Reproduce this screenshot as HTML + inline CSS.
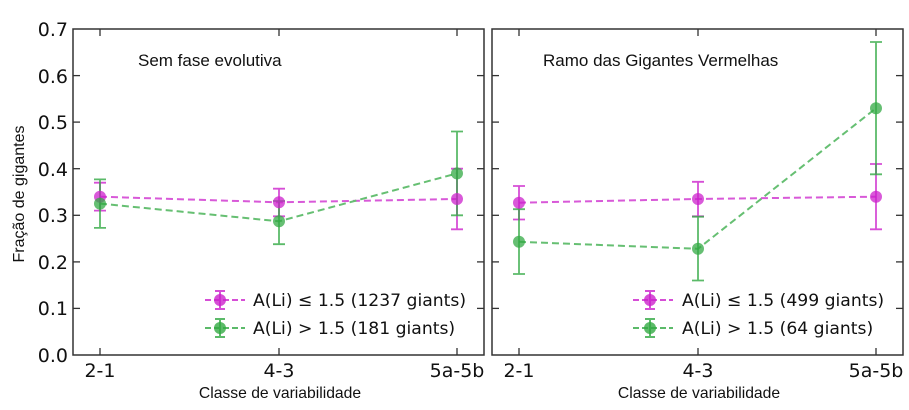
<!DOCTYPE html><html><head><style>body{margin:0;background:#fff}svg{display:block}text{font-family:"DejaVu Sans","Liberation Sans",sans-serif}</style></head><body>
<svg width="909" height="410" xmlns="http://www.w3.org/2000/svg">
<g id="L" transform="translate(73,29)">
<rect width="411" height="326" fill="none" stroke="#333" stroke-width="1.5"/>
<g stroke="#333" stroke-width="1.3">
<line x1="0" y1="46.6" x2="7" y2="46.6"/><line x1="0" y1="93.1" x2="7" y2="93.1"/><line x1="0" y1="139.7" x2="7" y2="139.7"/><line x1="0" y1="186.3" x2="7" y2="186.3"/><line x1="0" y1="232.9" x2="7" y2="232.9"/><line x1="0" y1="279.4" x2="7" y2="279.4"/>
<line x1="411" y1="46.6" x2="404" y2="46.6"/><line x1="411" y1="93.1" x2="404" y2="93.1"/><line x1="411" y1="139.7" x2="404" y2="139.7"/><line x1="411" y1="186.3" x2="404" y2="186.3"/><line x1="411" y1="232.9" x2="404" y2="232.9"/><line x1="411" y1="279.4" x2="404" y2="279.4"/>
<line x1="27" y1="326" x2="27" y2="319"/><line x1="206" y1="326" x2="206" y2="319"/><line x1="384" y1="326" x2="384" y2="319"/>
<line x1="27" y1="0" x2="27" y2="7"/><line x1="206" y1="0" x2="206" y2="7"/><line x1="384" y1="0" x2="384" y2="7"/>
</g></g>
<g id="R" transform="translate(492,29)">
<rect width="411" height="326" fill="none" stroke="#333" stroke-width="1.5"/>
<g stroke="#333" stroke-width="1.3">
<line x1="0" y1="46.6" x2="7" y2="46.6"/><line x1="0" y1="93.1" x2="7" y2="93.1"/><line x1="0" y1="139.7" x2="7" y2="139.7"/><line x1="0" y1="186.3" x2="7" y2="186.3"/><line x1="0" y1="232.9" x2="7" y2="232.9"/><line x1="0" y1="279.4" x2="7" y2="279.4"/>
<line x1="411" y1="46.6" x2="404" y2="46.6"/><line x1="411" y1="93.1" x2="404" y2="93.1"/><line x1="411" y1="139.7" x2="404" y2="139.7"/><line x1="411" y1="186.3" x2="404" y2="186.3"/><line x1="411" y1="232.9" x2="404" y2="232.9"/><line x1="411" y1="279.4" x2="404" y2="279.4"/>
<line x1="27" y1="326" x2="27" y2="319"/><line x1="206" y1="326" x2="206" y2="319"/><line x1="384" y1="326" x2="384" y2="319"/>
<line x1="27" y1="0" x2="27" y2="7"/><line x1="206" y1="0" x2="206" y2="7"/><line x1="384" y1="0" x2="384" y2="7"/>
</g></g>
<g font-size="19" fill="#111" text-anchor="end">
<text x="68" y="36">0.7</text><text x="68" y="83">0.6</text><text x="68" y="129">0.5</text><text x="68" y="176">0.4</text><text x="68" y="222">0.3</text><text x="68" y="269">0.2</text><text x="68" y="315">0.1</text><text x="68" y="362">0.0</text>
</g>
<g font-size="19" fill="#111" text-anchor="middle">
<text x="100" y="377">2-1</text><text x="279" y="377">4-3</text><text x="457" y="377">5a-5b</text>
<text x="519" y="377">2-1</text><text x="698" y="377">4-3</text><text x="876" y="377">5a-5b</text>
</g>
<g fill="#111">
<text x="280" y="398" text-anchor="middle" style="font-family:'Liberation Sans',sans-serif;font-size:15.7px">Classe de variabilidade</text>
<text x="699" y="398" text-anchor="middle" style="font-family:'Liberation Sans',sans-serif;font-size:15.7px">Classe de variabilidade</text>
<text x="138" y="66" style="font-family:'Liberation Sans',sans-serif;font-size:17px">Sem fase evolutiva</text>
<text x="543" y="66" style="font-family:'Liberation Sans',sans-serif;font-size:17px">Ramo das Gigantes Vermelhas</text>
<text transform="translate(24,194) rotate(-90)" text-anchor="middle" style="font-family:'Liberation Sans',sans-serif;font-size:16px">Fração de gigantes</text>
</g>
<g stroke-width="2" fill="none" opacity="0.75">
<polyline points="100,196.7 279,202.3 457,199" stroke="#cc22cc" stroke-dasharray="7,4"/>
<polyline points="100,203.6 279,221.3 457,173.4" stroke="#33aa44" stroke-dasharray="7,4"/>
<polyline points="519,202.7 698,199 876,196.7" stroke="#cc22cc" stroke-dasharray="7,4"/>
<polyline points="519,241.8 698,248.8 876,108.2" stroke="#33aa44" stroke-dasharray="7,4"/>
</g>
<g stroke="#cc22cc" stroke-width="1.8" opacity="0.8">
<path d="M100,182.7V210.6M94,182.7H106M94,210.6H106"/>
<path d="M279,188.7V216.3M273,188.7H285M273,216.3H285"/>
<path d="M457,168.7V229.3M451,168.7H463M451,229.3H463"/>
<path d="M519,186V219.5M513,186H525M513,219.5H525"/>
<path d="M698,181.8V216.3M692,181.8H704M692,216.3H704"/>
<path d="M876,164V229.3M870,164H882M870,229.3H882"/>
</g>
<g stroke="#33aa44" stroke-width="1.8" opacity="0.8">
<path d="M100,179.4V227.9M94,179.4H106M94,227.9H106"/>
<path d="M279,201V244.2M273,201H285M273,244.2H285"/>
<path d="M457,131.5V215.3M451,131.5H463M451,215.3H463"/>
<path d="M519,209.2V274M513,209.2H525M513,274H525"/>
<path d="M698,216.7V280.5M692,216.7H704M692,280.5H704"/>
<path d="M876,42V174.3M870,42H882M870,174.3H882"/>
</g>
<g fill="#cc22cc" opacity="0.75">
<circle cx="100" cy="196.7" r="6"/><circle cx="279" cy="202.3" r="6"/><circle cx="457" cy="199" r="6"/>
<circle cx="519" cy="202.7" r="6"/><circle cx="698" cy="199" r="6"/><circle cx="876" cy="196.7" r="6"/>
</g>
<g fill="#33aa44" opacity="0.75">
<circle cx="100" cy="203.6" r="6"/><circle cx="279" cy="221.3" r="6"/><circle cx="457" cy="173.4" r="6"/>
<circle cx="519" cy="241.8" r="6"/><circle cx="698" cy="248.8" r="6"/><circle cx="876" cy="108.2" r="6"/>
</g>
<g opacity="0.8" stroke-width="2">
<path d="M205,300H245" stroke="#cc22cc" stroke-dasharray="6,3"/><path d="M220,291V309M215,291H225M215,309H225" stroke="#cc22cc"/>
<path d="M205,328H245" stroke="#33aa44" stroke-dasharray="6,3"/><path d="M220,319V337M215,319H225M215,337H225" stroke="#33aa44"/>
<path d="M633,300H673" stroke="#cc22cc" stroke-dasharray="6,3"/><path d="M650,291V309M645,291H655M645,309H655" stroke="#cc22cc"/>
<path d="M633,328H673" stroke="#33aa44" stroke-dasharray="6,3"/><path d="M650,319V337M645,319H655M645,337H655" stroke="#33aa44"/>
</g>
<circle cx="220" cy="300" r="6" fill="#cc22cc" opacity="0.8"/><circle cx="220" cy="328" r="6" fill="#33aa44" opacity="0.8"/>
<circle cx="650" cy="300" r="6" fill="#cc22cc" opacity="0.8"/><circle cx="650" cy="328" r="6" fill="#33aa44" opacity="0.8"/>
<g font-size="17.2" fill="#111">
<text x="253" y="306">A(Li) ≤ 1.5 (1237 giants)</text>
<text x="253" y="334">A(Li) &gt; 1.5 (181 giants)</text>
<text x="682" y="306">A(Li) ≤ 1.5 (499 giants)</text>
<text x="682" y="334">A(Li) &gt; 1.5 (64 giants)</text>
</g>
</svg>
</body></html>
